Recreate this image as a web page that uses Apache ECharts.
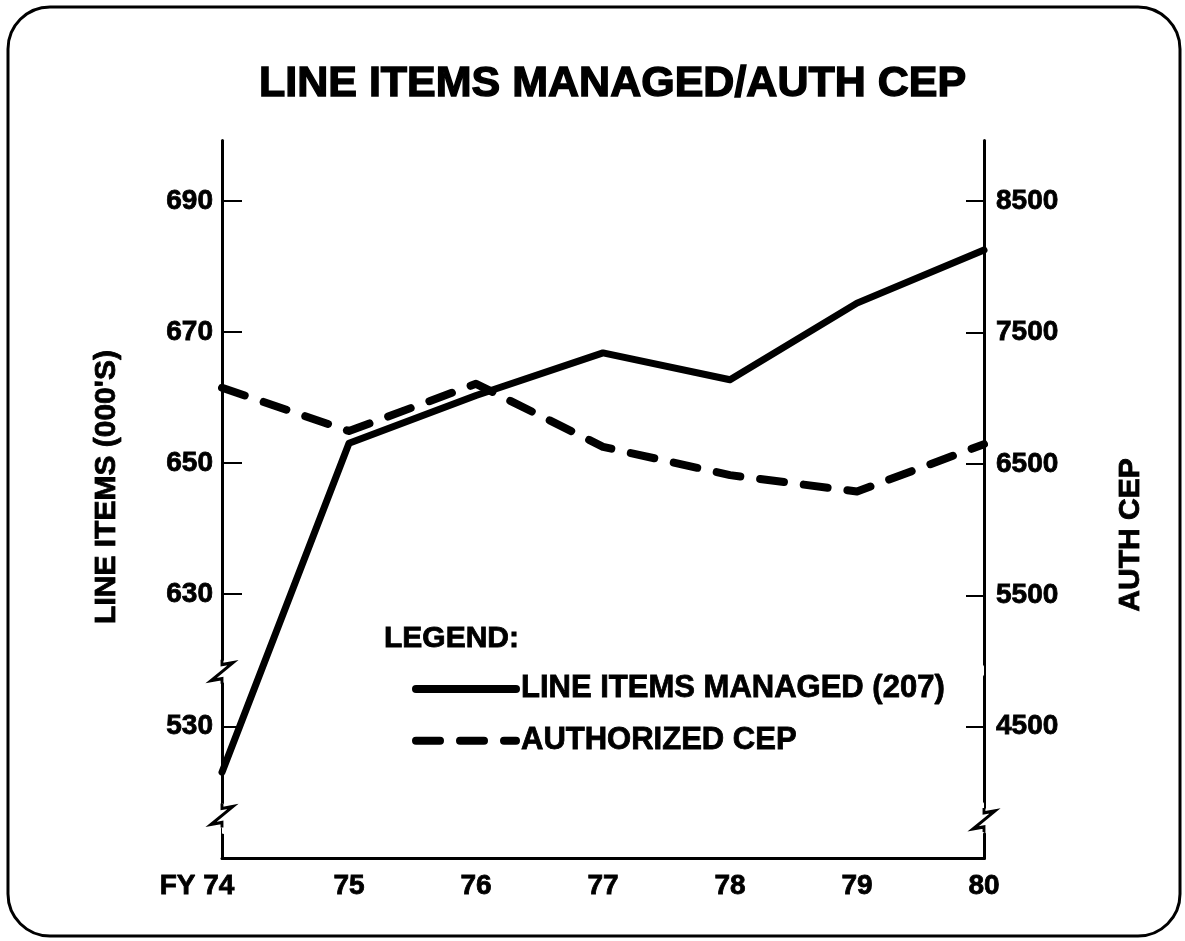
<!DOCTYPE html>
<html>
<head>
<meta charset="utf-8">
<script src="https://cdn.jsdelivr.net/npm/echarts@6/dist/echarts.min.js"></script>
<style>
  html, body { margin: 0; padding: 0; background: #fff; }
  #chart { width: 1185px; height: 941px; }
</style>
</head>
<body>
<div id="chart"></div>
<script>
// fiscal years
const years = ["74", "75", "76", "77", "78", "79", "80"];
// line items managed, thousands (left axis)
const lineItems = [523, 653, 660.3, 666.8, 662.7, 674.4, 682.5];
// authorized CEP (right axis)
const authCep = [7080, 6750, 7110, 6630, 6415, 6290, 6650];
const leftTicks = [530, 630, 650, 670, 690];
const rightTicks = [4500, 5500, 6500, 7500, 8500];

const FONT = "'Liberation Sans', Arial, sans-serif";
// zigzag mark for the broken axes
const zigzag = "path://M10 0 L10 5 L20 3 L0 21 L10 19 L10 24";

const breakStyle = {
  show: true,
  zigzagZ: 1,
  itemStyle: { color: "#fff", borderWidth: 0, opacity: 1 }
};

// each axis break: a white patch over the axis line, then the zigzag
const breakMarks = (cat, vals) => {
  const out = [];
  vals.forEach((v) => {
    out.push({
      coord: [cat, v],
      symbol: "rect",
      symbolSize: [12, 22],
      itemStyle: { color: "#fff", borderWidth: 0 }
    });
    out.push({ coord: [cat, v] });
  });
  return out;
};

// heavy black text
const txt = (size) => ({
  fontFamily: FONT,
  fontSize: size,
  fontWeight: "bold",
  color: "#000",
  textBorderColor: "#000",
  textBorderWidth: 0.8
});

const option = {
  animation: false,
  backgroundColor: "#fff",
  title: [
    {
      text: "LINE ITEMS MANAGED/AUTH CEP",
      left: 254,
      top: 58,
      z: 200,
      textStyle: Object.assign(txt(43), { textBorderWidth: 1.4 })
    },
    {
      text: "LEGEND:",
      left: 384,
      top: 624,
      padding: 0,
      z: 200,
      textStyle: txt(30)
    }
  ],
  legend: {
    orient: "vertical",
    left: 412,
    top: 673,
    padding: 0,
    z: 200,
    itemWidth: 100,
    itemHeight: 20,
    itemGap: 20,
    itemStyle: { opacity: 0 },
    lineStyle: { width: 8 },
    textStyle: Object.assign(txt(31), { lineHeight: 30 }),
    data: ["LINE ITEMS MANAGED (207)", "AUTHORIZED CEP"]
  },
  grid: { left: 222, right: 201, top: 140, bottom: 83, outerBoundsMode: "none" },
  xAxis: {
    type: "category",
    boundaryGap: false,
    data: years,
    axisLine: { lineStyle: { color: "#000", width: 3 } },
    axisTick: { show: false },
    axisLabel: Object.assign(txt(28), {
      interval: 0,
      margin: 14,
      formatter: (v, i) => (i === 0 ? "FY " + v + "{pad|}" : v),
      rich: { pad: { width: 50 } }
    }),
    splitLine: { show: false }
  },
  yAxis: [
    {
      type: "value",
      position: "left",
      min: 0,
      max: 699.3,
      breaks: [
        { start: 4.6, end: 518.3, gap: 3.8 },
        { start: 537.6, end: 618.9, gap: 1.5 }
      ],
      breakArea: breakStyle,
      name: "LINE ITEMS (000'S)",
      nameLocation: "middle",
      nameRotate: 90,
      nameGap: 100,
      nameTextStyle: Object.assign(txt(30), { padding: [0, 0, 0, 24] }),
      axisLine: { show: true, lineStyle: { color: "#000", width: 3 } },
      axisTick: { show: true, inside: true, length: 20, customValues: leftTicks, lineStyle: { color: "#000", width: 2 } },
      axisLabel: Object.assign(txt(28), { margin: 9, customValues: leftTicks, formatter: (v) => String(v) }),
      splitLine: { show: false }
    },
    {
      type: "value",
      position: "right",
      min: 0,
      max: 8966,
      breaks: [{ start: 191, end: 3889, gap: 198 }],
      breakArea: breakStyle,
      name: "AUTH CEP",
      nameLocation: "middle",
      nameRotate: 90,
      nameGap: 132,
      nameTextStyle: Object.assign(txt(30), { padding: [0, 72, 0, 0] }),
      axisLine: { show: true, lineStyle: { color: "#000", width: 3 } },
      axisTick: { show: true, inside: true, length: 18, customValues: rightTicks, lineStyle: { color: "#000", width: 2 } },
      axisLabel: Object.assign(txt(28), { margin: 12, customValues: rightTicks, formatter: (v) => String(v) }),
      splitLine: { show: false }
    }
  ],
  series: [
    {
      name: "LINE ITEMS MANAGED (207)",
      type: "line",
      yAxisIndex: 0,
      z: 200,
      clip: false,
      data: lineItems,
      symbol: "none",
      lineStyle: { color: "#000", width: 7, cap: "round", join: "round" },
      itemStyle: { color: "#000" },
      markPoint: {
        symbol: zigzag,
        symbolSize: [22, 24],
        label: { show: false },
        itemStyle: { color: "rgba(0,0,0,0)", borderColor: "#000", borderWidth: 3 },
        data: breakMarks("74", [578, 261])
      }
    },
    {
      name: "AUTHORIZED CEP",
      type: "line",
      yAxisIndex: 1,
      z: 200,
      clip: false,
      data: authCep,
      symbol: "none",
      lineStyle: { color: "#000", width: 8, type: [24, 20], cap: "round", join: "round" },
      itemStyle: { color: "#000" },
      markPoint: {
        symbol: zigzag,
        symbolSize: [22, 24],
        label: { show: false },
        itemStyle: { color: "rgba(0,0,0,0)", borderColor: "#000", borderWidth: 3 },
        data: breakMarks("80", [2040])
      }
    }
  ],
  graphic: [
    {
      type: "rect",
      shape: { x: 8, y: 7, width: 1172, height: 929, r: 42 },
      style: { fill: "none", stroke: "#000", lineWidth: 3 },
      silent: true,
      z: -1
    }
  ]
};

const myChart = echarts.init(document.getElementById("chart"));
myChart.setOption(option);
</script>
</body>
</html>
